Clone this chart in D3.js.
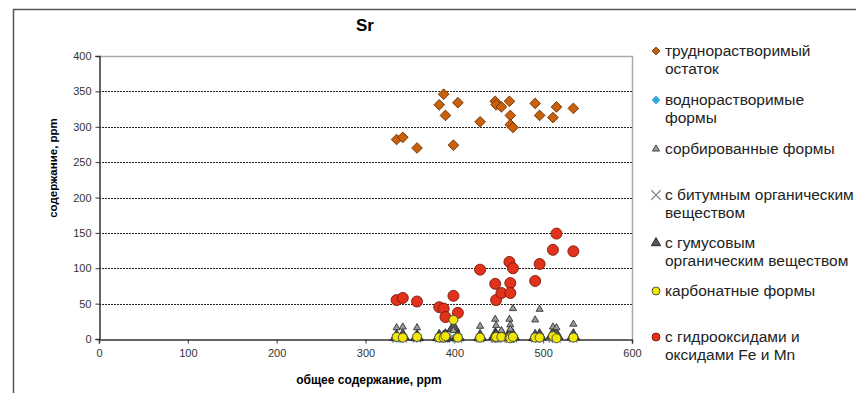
<!DOCTYPE html>
<html>
<head>
<meta charset="utf-8">
<script src="https://cdn.jsdelivr.net/npm/d3@7"></script>
<style>
  body { margin: 0; background: #fff; }
  svg { display: block; font-family: "Liberation Sans", Arial, sans-serif; }
</style>
</head>
<body>
<div id="chart"></div>
<script>
// total Sr content per sample (x)
const total = [335, 342, 358, 383, 388, 390, 399, 404, 429, 446, 447, 453, 462, 463, 463, 466, 491, 496, 511, 515, 534];

// forms of Sr (y), same order as total
const residue   = [282, 285, 270, 331, 346, 316, 274, 334, 307, 336, 331, 328, 336, 316, 303, 299, 333, 316, 313, 328, 326];
const waterSol  = [0.5, 0.5, 0.5, 0.5, 0.5, 0.5, 1, 0.5, 0.5, 0.5, 0.5, 0.5, 0.5, 0.5, 0.5, 0.5, 0.5, 0.5, 0.5, 0.5, 0.5];
const sorbed    = [16, 17, 16, 5, 4, 6, 12, 5, 18, 28, 19, 12, 28, 20, 14, 43, 27, 42, 17, 16, 21];
const bitumen   = [1, 1, 1, 1, 1, 1, 2, 1, 1, 1, 1, 1, 1, 1, 1, 1, 1, 1, 1, 1, 1];
const humus     = [3, 4, 3, 3, 2, 4, 16, 3, 3, 5, 4, 6, 4, 8, 5, 4, 3, 4, 6, 5, 4];
const carbonate = [3, 2, 3, 2, 2, 4, 27, 2, 2, 2, 3, 3, 2, 3, 1, 3, 2, 2, 4, 1, 2];
const oxides    = [55, 58, 53, 45, 43, 31, 61, 37, 98, 78, 55, 65, 109, 79, 65, 100, 82, 106, 126, 149, 124];

const xTicks = [0, 100, 200, 300, 400, 500, 600];
const yTicks = [0, 50, 100, 150, 200, 250, 300, 350, 400];

const series = [
  { name: ["труднорастворимый", "остаток"], values: residue, shape: "diamond", size: 11, fill: "#c8600c", stroke: "#6b3000", ly: 51 },
  { name: ["воднорастворимые", "формы"], values: waterSol, shape: "diamond", size: 8, fill: "#33a6de", stroke: "#33a6de", ly: 100 },
  { name: ["сорбированные формы"], values: sorbed, shape: "triangle", size: 6, fill: "#9a9a9a", stroke: "#333", ly: 149 },
  { name: ["с битумным органическим", "веществом"], values: bitumen, shape: "cross", size: 9, fill: "none", stroke: "#888", ly: 195 },
  { name: ["с гумусовым", "органическим веществом"], values: humus, shape: "triangle", size: 11, fill: "#555", stroke: "#222", ly: 243 },
  { name: ["карбонатные формы"], values: carbonate, shape: "circle", size: 9, fill: "#f0e800", stroke: "#444", ly: 291 },
  { name: ["с гидрооксидами и", "оксидами Fe и Mn"], values: oxides, shape: "circle", size: 11, fill: "#e2321c", stroke: "#7a1a0a", ly: 337 }
];

const W = 856, H = 393;
const plot = { left: 99, right: 632, top: 56, bottom: 339 };

const svg = d3.select("#chart").append("svg")
  .attr("width", W)
  .attr("height", H);

// outer chart frame
svg.append("rect")
  .attr("x", 13.5).attr("y", 9.5)
  .attr("width", 860).attr("height", 400)
  .attr("fill", "none")
  .attr("stroke", "#555")
  .attr("stroke-width", 1.5);

const x = d3.scaleLinear().domain([0, 600]).range([plot.left, plot.right]);
const y = d3.scaleLinear().domain([0, 400]).range([plot.bottom, plot.top]);

// dashed gridlines
svg.append("g")
  .selectAll("line")
  .data(yTicks.filter(d => d > 0 && d < 400))
  .join("line")
  .attr("x1", plot.left).attr("x2", plot.right)
  .attr("y1", d => Math.round(y(d)) + 0.5).attr("y2", d => Math.round(y(d)) + 0.5)
  .attr("stroke", "#222")
  .attr("stroke-dasharray", "2,1");

// plot area border (top and right)
svg.append("path")
  .attr("d", `M${plot.left},${plot.top + 0.5}H${plot.right + 0.5}V${plot.bottom}`)
  .attr("fill", "none")
  .attr("stroke", "#aaa")
  .attr("stroke-width", 1.5);

// axes
const xAxis = svg.append("g")
  .attr("transform", `translate(0,${plot.bottom + 0.5})`)
  .call(d3.axisBottom(x).tickValues(xTicks).tickSize(4).tickPadding(6));
const yAxis = svg.append("g")
  .attr("transform", `translate(${plot.left + 0.5},0)`)
  .call(d3.axisLeft(y).tickValues(yTicks).tickSize(4).tickPadding(4));

[xAxis, yAxis].forEach(a => {
  a.select(".domain").attr("stroke", "#333").attr("stroke-width", 1.5);
  a.selectAll(".tick line").attr("stroke", "#333");
  a.selectAll("text")
    .attr("fill", "#333")
    .style("font-size", "11px")
    .style("font-family", "'Liberation Sans', Arial, sans-serif");
});

// marker shapes
const symbolFor = {
  diamond: d3.symbolDiamond2,
  triangle: d3.symbolTriangle,
  circle: d3.symbolCircle,
  cross: d3.symbolX
};

function marker(g, s, cx, cy) {
  const area = s.shape === "circle" ? Math.PI * (s.size / 2) ** 2 : s.size * s.size * 0.6;
  g.append("path")
    .attr("d", d3.symbol().type(symbolFor[s.shape]).size(area)())
    .attr("transform", `translate(${cx},${cy})`)
    .attr("fill", s.fill)
    .attr("stroke", s.stroke)
    .attr("stroke-width", s.shape === "cross" ? 1.3 : 0.9);
}

// points: draw lower layers first so the order looks like the reference
const drawOrder = [0, 6, 1, 3, 4, 2, 5];
drawOrder.forEach(i => {
  const s = series[i];
  const g = svg.append("g");
  s.values.forEach((v, j) => marker(g, s, x(total[j]), y(v)));
});

// legend
const legend = svg.append("g");
series.forEach(s => {
  marker(legend, Object.assign({}, s, { size: s.shape === "cross" ? 10 : Math.min(s.size, 8) }), 656, s.ly);
  s.name.forEach((line, k) => {
    legend.append("text")
      .attr("x", 665)
      .attr("y", s.ly + k * 18)
      .attr("dy", "0.35em")
      .attr("fill", "#222")
      .style("font-size", "15.5px")
      .text(line);
  });
});

// title
svg.append("text")
  .attr("x", 365).attr("y", 25)
  .attr("dy", "0.35em")
  .attr("text-anchor", "middle")
  .style("font-size", "17px")
  .style("font-weight", "bold")
  .text("Sr");

// axis titles
svg.append("text")
  .attr("x", 369).attr("y", 380)
  .attr("dy", "0.35em")
  .attr("text-anchor", "middle")
  .style("font-size", "12px")
  .style("font-weight", "bold")
  .text("общее содержание, ppm");

svg.append("text")
  .attr("transform", "translate(53,168) rotate(-90)")
  .attr("dy", "0.35em")
  .attr("text-anchor", "middle")
  .style("font-size", "11.5px")
  .style("font-weight", "bold")
  .text("содержание, ppm");
</script>
</body>
</html>
